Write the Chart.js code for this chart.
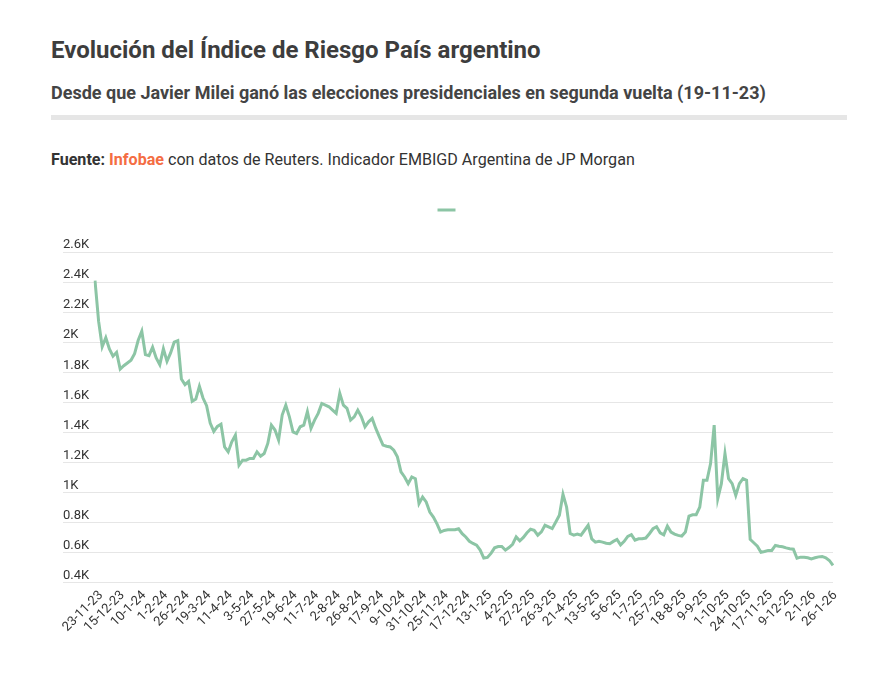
<!DOCTYPE html>
<html>
<head>
<meta charset="utf-8">
<script src="https://cdn.jsdelivr.net/npm/chart.js@4/dist/chart.umd.min.js"></script>
<style>
  body { margin: 0; background: #fff; font-family: Roboto, sans-serif; }
  .titulo { position: absolute; left: 51px; top: 36px; margin: 0; font-size: 24px; line-height: 28px; font-weight: 700; color: #3d3d3d; }
  .subtitulo { position: absolute; left: 51px; top: 82px; margin: 0; font-size: 18px; line-height: 22px; font-weight: 700; color: #444; }
  .barra { position: absolute; left: 51px; top: 115px; width: 796px; height: 5px; background: #e6e6e6; }
  .fuente { position: absolute; left: 51px; top: 150px; margin: 0; font-size: 16.1px; line-height: 20px; color: #333; }
  .fuente b { color: #333; }
  .fuente .infobae { color: #f46d43; font-weight: 700; }
  #caja { position: absolute; left: 51px; top: 190px; width: 796px; height: 448px; }
</style>
</head>
<body>
<h1 class="titulo">Evolución del Índice de Riesgo País argentino</h1>
<h2 class="subtitulo">Desde que Javier Milei ganó las elecciones presidenciales en segunda vuelta (19-11-23)</h2>
<div class="barra"></div>
<p class="fuente"><b>Fuente:</b> <span class="infobae">Infobae</span> con datos de Reuters. Indicador EMBIGD Argentina de JP Morgan</p>
<div id="caja"><canvas id="grafico"></canvas></div>

<script>
// fechas que se ven en el eje (una cada 6 puntos)
var etiquetas = ['23-11-23','15-12-23','10-1-24','1-2-24','26-2-24','19-3-24','11-4-24','3-5-24','27-5-24',
    '19-6-24','11-7-24','2-8-24','26-8-24','17-9-24','9-10-24','31-10-24','25-11-24','17-12-24','13-1-25',
    '4-2-25','27-2-25','26-3-25','21-4-25','13-5-25','5-6-25','1-7-25','25-7-25','18-8-25','9-9-25',
    '1-10-25','24-10-25','17-11-25','9-12-25','2-1-26','26-1-26'];

var paso = 6;

// riesgo pais (puntos basicos)
var riesgo = [
    2410,2140,1970,2030,1955,1907,1933,1822,1844,1862,1880,1924,2013,2073,1918,1911,
    1967,1896,1851,1956,1873,1929,2000,2010,1756,1718,1740,1607,1622,1707,1629,1578,
    1462,1407,1440,1455,1304,1271,1338,1382,1182,1216,1216,1227,1227,1271,1242,1260,
    1327,1449,1416,1349,1516,1582,1504,1404,1393,1438,1449,1538,1427,1482,1527,1593,
    1582,1571,1549,1527,1660,1582,1560,1482,1504,1549,1504,1438,1471,1493,1427,1371,
    1316,1309,1304,1282,1238,1138,1104,1060,1104,1093,927,971,938,871,838,793,
    738,749,753,753,753,760,727,705,677,662,651,618,565,569,596,633,
    642,642,618,635,657,706,680,702,733,757,750,717,739,783,772,761,
    805,850,989,905,728,717,724,717,750,783,692,671,676,671,664,660,
    676,689,653,676,709,720,684,693,693,698,727,760,773,733,720,778,
    738,724,716,711,738,844,853,853,904,1082,1082,1193,1449,960,1060,1260,
    1093,1060,982,1060,1093,1082,689,667,644,604,609,616,616,649,644,640,
    633,627,624,564,571,571,567,560,567,573,576,567,549,516
];

var categorias = [];
for (var i = 0; i < riesgo.length; i++) {
    categorias.push(i % paso == 0 && etiquetas[i / paso] ? etiquetas[i / paso] : '');
}

Chart.defaults.font.family = 'Roboto';
Chart.defaults.color = '#333';

var ctx = document.getElementById('grafico');
var grafico = new Chart(ctx, {
    type: 'line',
    data: {
        labels: categorias,
        datasets: [{
            label: '',
            data: riesgo,
            borderColor: '#8cc5a5',
            backgroundColor: '#8cc5a5',
            borderWidth: 3,
            pointRadius: 0,
            tension: 0
        }]
    },
    options: {
        responsive: true,
        maintainAspectRatio: false,
        animation: false,
        layout: { padding: { left: 12, right: 11, top: 4 } },
        plugins: {
            legend: {
                display: true,
                labels: {
                    boxWidth: 18,
                    boxHeight: 3,
                    padding: 10,
                    font: { size: 12 },
                    generateLabels: function(chart) {
                        var items = Chart.defaults.plugins.legend.labels.generateLabels(chart);
                        items.forEach(function(it) { it.lineWidth = 0; });
                        return items;
                    }
                }
            },
            tooltip: { enabled: false }
        },
        scales: {
            x: {
                grid: { display: false, tickLength: 2 },
                border: { display: false },
                ticks: {
                    autoSkip: false,
                    maxRotation: 45,
                    minRotation: 45,
                    labelOffset: 6,
                    font: { size: 13 },
                    color: '#333'
                }
            },
            // solo deja aire entre la leyenda y el area del grafico
            arriba: {
                type: 'category',
                position: 'top',
                grid: { display: false },
                border: { display: false },
                ticks: { display: false },
                afterFit: function(scale) { scale.height = 26; }
            },
            y: {
                min: 400,
                max: 2600,
                grid: { color: '#e6e6e6', tickLength: 32 },
                border: { display: false },
                afterFit: function(scale) { scale.width = 32; },
                ticks: {
                    stepSize: 200,
                    crossAlign: 'far',
                    labelOffset: -7,
                    font: { size: 13 },
                    color: '#333',
                    callback: function(v) { return (Math.round(v / 100) / 10) + 'K'; }
                }
            }
        }
    }
});
</script>
</body>
</html>
